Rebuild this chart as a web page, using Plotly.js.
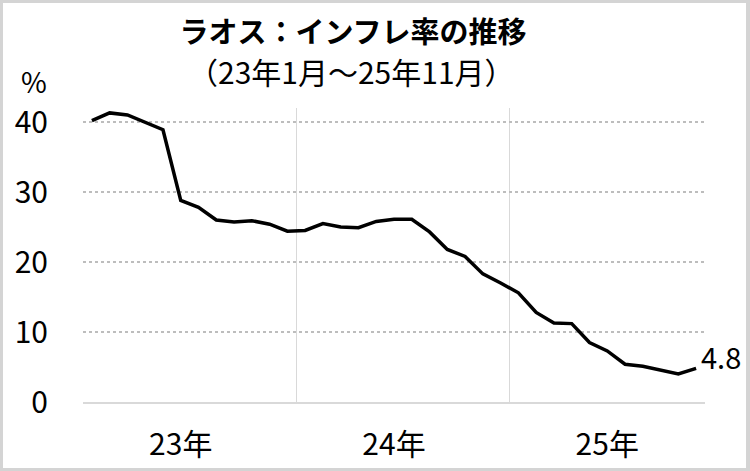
<!DOCTYPE html>
<html>
<head>
<meta charset="utf-8">
<script src="https://cdn.plot.ly/plotly-3.0.1.min.js"></script>
<style>
  html, body { margin: 0; padding: 0; background: #d4d4d4; }
  #chart { position: absolute; left: 3px; top: 3px; width: 743px; height: 465px; background: #fff; }
</style>
</head>
<body>
<div id="chart"></div>
<script>
const months = [
  "23年1月","23年2月","23年3月","23年4月","23年5月","23年6月","23年7月","23年8月","23年9月","23年10月","23年11月","23年12月",
  "24年1月","24年2月","24年3月","24年4月","24年5月","24年6月","24年7月","24年8月","24年9月","24年10月","24年11月","24年12月",
  "25年1月","25年2月","25年3月","25年4月","25年5月","25年6月","25年7月","25年8月","25年9月","25年10月","25年11月"
];
const inflation = [
  40.2, 41.3, 41.0, 39.9, 38.9, 28.8, 27.8, 26.0, 25.7, 25.9, 25.4, 24.4,
  24.5, 25.5, 25.0, 24.9, 25.8, 26.1, 26.1, 24.3, 21.8, 20.8, 18.3, 17.0,
  15.6, 12.8, 11.3, 11.2, 8.5, 7.3, 5.4, 5.1, 4.6, 4.0, 4.8
];
const yearLabels = ["23年", "24年", "25年"];
const yearLabelMonths = ["23年6月", "24年6月", "25年6月"];
const yTicks = [0, 10, 20, 30, 40];
const lastLabel = "4.8";

const xIdx = months.map((m, i) => i);
const FONT = '"Noto Sans CJK JP", "Liberation Sans", sans-serif';

const trace = {
  x: xIdx, y: inflation, text: months, type: 'scatter', mode: 'lines',
  line: { color: '#000000', width: 3.5 },
  hoverinfo: 'text+y'
};

const layout = {
  width: 743, height: 465,
  margin: { l: 80, r: 41, t: 105, b: 66 },
  paper_bgcolor: '#ffffff', plot_bgcolor: '#ffffff',
  showlegend: false,
  font: { family: FONT, color: '#000000' },
  title: {
    text: '<b>ラオス：インフレ率の推移</b>',
    font: { family: FONT, size: 29, color: '#000000' },
    x: 350 / 743, xanchor: 'center', y: 1 - 30 / 465, yanchor: 'middle', xref: 'container', yref: 'container'
  },
  xaxis: {
    range: [-0.5, months.length - 0.5],
    tickmode: 'array',
    tickvals: yearLabelMonths.map(m => months.indexOf(m)),
    ticktext: yearLabels,
    ticks: '', showgrid: false, zeroline: false,
    showline: true, linecolor: '#d9d9d9', linewidth: 2,
    tickfont: { family: FONT, size: 30, color: '#000000' },
    ticklabelstandoff: 15,
    minor: { tickmode: 'linear', tick0: -0.5, dtick: 12, showgrid: true, gridcolor: '#d9d9d9', gridwidth: 1.3, ticks: '' },
    fixedrange: true
  },
  yaxis: {
    range: [0, 42],
    tickmode: 'array', tickvals: yTicks, ticktext: yTicks.map(String),
    ticks: '', showgrid: true, gridcolor: '#bdbdbd', gridwidth: 1.5, griddash: 'dot',
    zeroline: false, showline: false,
    tickfont: { family: FONT, size: 30, color: '#000000' },
    ticklabelstandoff: 34,
    fixedrange: true
  },
  annotations: [
    {
      text: '（23年1月～25年11月）', xref: 'paper', yref: 'paper',
      x: (351 - 80 - 3) / 622, y: (402 - 71) / 294, xanchor: 'center', yanchor: 'middle',
      showarrow: false, font: { family: FONT, size: 30, color: '#000000' }
    },
    {
      text: '%', xref: 'paper', yref: 'paper',
      x: (34 - 83) / 622, y: (402 - 81) / 294, xanchor: 'center', yanchor: 'middle',
      showarrow: false, font: { family: FONT, size: 28, color: '#000000' }
    },
    {
      text: lastLabel, x: xIdx[xIdx.length - 1], y: inflation[inflation.length - 1],
      xref: 'x', yref: 'y', xanchor: 'left', yanchor: 'middle', xshift: 3, yshift: 12,
      showarrow: false, font: { family: FONT, size: 29, color: '#000000' }
    }
  ]
};

Plotly.newPlot('chart', [trace], layout, { displayModeBar: false, staticPlot: true });
</script>
</body>
</html>
